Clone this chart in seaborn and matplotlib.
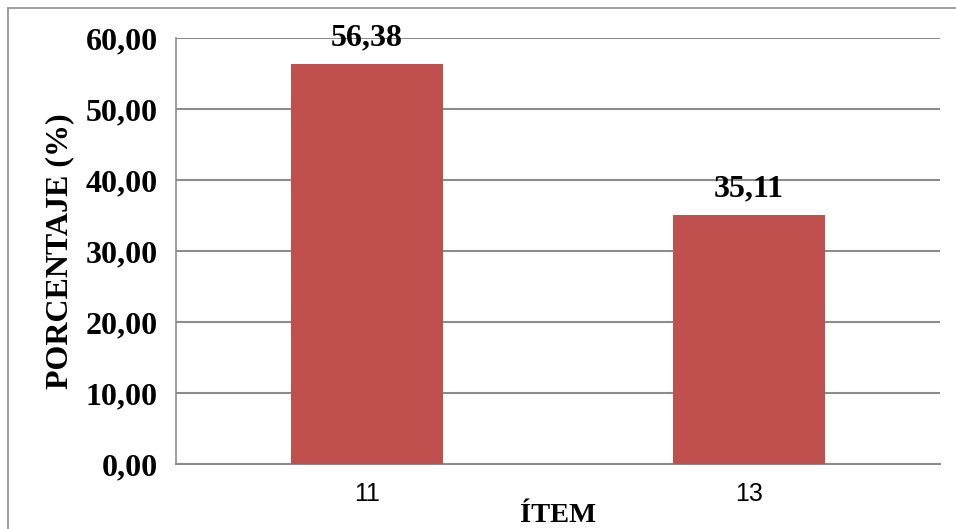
import matplotlib
matplotlib.use("Agg")
import matplotlib.pyplot as plt
import seaborn as sns
import pandas as pd
from matplotlib.lines import Line2D

items = ["11", "13"]
porcentajes = [56.38, 35.11]
y_ticks = [0, 10, 20, 30, 40, 50, 60]

df = pd.DataFrame({"item": items, "pct": porcentajes})

sns.set_style("white")
plt.rcParams['font.family'] = ['Liberation Serif', 'DejaVu Serif']
plt.rcParams['text.color'] = 'black'
plt.rcParams['axes.labelcolor'] = 'black'
plt.rcParams['xtick.color'] = 'black'
plt.rcParams['ytick.color'] = 'black'

fig = plt.figure(figsize=(9.56, 5.29), dpi=100)
ax = fig.add_axes([176/956, 65/529, 764/956, 426/529])

sns.barplot(data=df, x="item", y="pct", color="#C0504D", width=0.4,
            saturation=1, linewidth=0, ax=ax, zorder=3)

ax.set_ylim(0, 60)
ax.set_yticks(y_ticks)
ax.set_yticklabels([f"{v:.2f}".replace(".", ",") for v in y_ticks],
                   fontsize=23, fontweight="bold")
ax.set_xticks(range(len(items)))
ax.set_xticklabels(items, fontsize=18, family=["Liberation Sans", "DejaVu Sans"])
ax.tick_params(axis="y", length=6, color="#8c8c8c", labelcolor="black", width=1.2, pad=7)
ax.tick_params(axis="x", length=0, pad=13, labelcolor="black")

ax.grid(axis="y", color="#8c8c8c", linewidth=1.5, zorder=0)
ax.set_axisbelow(True)
for s in ["top", "right"]:
    ax.spines[s].set_visible(False)
ax.spines["left"].set_color("#8c8c8c")
ax.spines["bottom"].set_color("#8c8c8c")
ax.spines["left"].set_linewidth(1.2)
ax.spines["bottom"].set_linewidth(1.5)

ax.set_ylabel("PORCENTAJE (%)", fontsize=23, fontweight="bold", labelpad=8)
ax.set_xlabel("ÍTEM", fontsize=20.5, fontweight="bold", labelpad=-2)

for i, v in enumerate(porcentajes):
    ax.annotate(f"{v:.2f}".replace(".", ","), (i, v), xytext=(0, 13),
                textcoords="offset points", ha="center", va="baseline",
                fontsize=23, fontweight="bold")

# outer chart border (runs off the right and bottom of the image)
fig.add_artist(Line2D([8/956, 8/956], [0, 1 - 8/529], color="#8c8c8c", lw=1.2))
fig.add_artist(Line2D([8/956, 1], [1 - 8/529, 1 - 8/529], color="#8c8c8c", lw=1.2))

fig.savefig("out.png", dpi=100)
